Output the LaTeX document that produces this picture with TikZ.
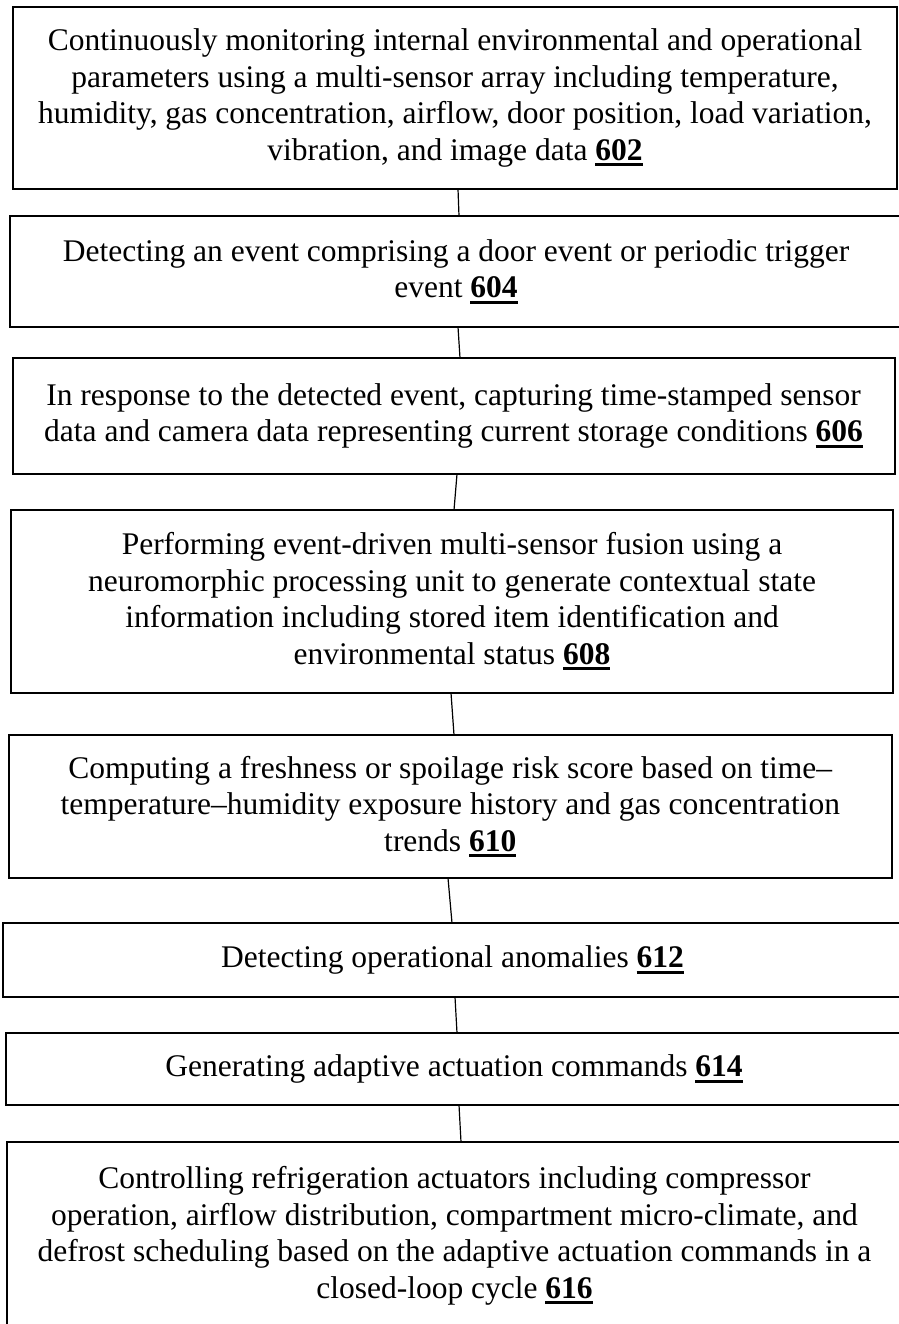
\documentclass[tikz,border=0pt]{standalone}
\usepackage{fontspec}
\setmainfont{Liberation Serif}
\newcommand\rn[1]{\textbf{\setbox0\hbox{#1}\rlap{\vrule width\wd0 height -3pt depth 6pt}\box0}}
\begin{document}
\begin{tikzpicture}[x=1pt,y=1pt,
  stepbox/.style={draw=black, line width=2pt, inner sep=0pt, outer sep=0pt, align=center,
    font=\fontsize{31.5}{36.5}\selectfont},
  link/.style={draw=black, line width=1.2pt}]
\useasboundingbox (0,0) rectangle (898,-1324);
\node[stepbox, minimum width=884pt, minimum height=182pt] (b1) at (455,-98)
  {Continuously monitoring internal environmental and operational\\parameters using a multi-sensor array including temperature,\\humidity, gas concentration, airflow, door position, load variation,\\vibration, and image data \rn{602}};
\node[stepbox, minimum width=892pt, minimum height=111pt] (b2) at (456,-271.5)
  {Detecting an event comprising a door event or periodic trigger\\event \rn{604}};
\node[stepbox, minimum width=882pt, minimum height=116pt] (b3) at (453.5,-416)
  {In response to the detected event, capturing time-stamped sensor\\data and camera data representing current storage conditions \rn{606}};
\node[stepbox, minimum width=881.5pt, minimum height=183pt] (b4) at (452,-601.5)
  {Performing event-driven multi-sensor fusion using a\\neuromorphic processing unit to generate contextual state\\information including stored item identification and\\environmental status \rn{608}};
\node[stepbox, minimum width=883.4pt, minimum height=143pt] (b5) at (450.3,-806.5)
  {Computing a freshness or spoilage risk score based on time–\\temperature–humidity exposure history and gas concentration\\trends \rn{610}};
\node[stepbox, minimum width=899pt, minimum height=74pt] (b6) at (452.5,-960)
  {Detecting operational anomalies \rn{612}};
\node[stepbox, minimum width=896pt, minimum height=72pt] (b7) at (454,-1069)
  {Generating adaptive actuation commands \rn{614}};
\node[stepbox, minimum width=895pt, minimum height=188pt] (b8) at (454.5,-1236)
  {Controlling refrigeration actuators including compressor\\operation, airflow distribution, compartment micro-climate, and\\defrost scheduling based on the adaptive actuation commands in a\\closed-loop cycle \rn{616}};
\draw[link] ([xshift=3pt]b1.south) -- ([xshift=3pt]b2.north);
\draw[link] ([xshift=2pt]b2.south) -- ([xshift=6.5pt]b3.north);
\draw[link] ([xshift=3.5pt]b3.south) -- ([xshift=2pt]b4.north);
\draw[link] ([xshift=-1pt]b4.south) -- ([xshift=3.7pt]b5.north);
\draw[link] ([xshift=-2.3pt]b5.south) -- ([xshift=-0.5pt]b6.north);
\draw[link] ([xshift=2.5pt]b6.south) -- ([xshift=3pt]b7.north);
\draw[link] ([xshift=5pt]b7.south) -- ([xshift=6.5pt]b8.north);
\end{tikzpicture}
\end{document}
